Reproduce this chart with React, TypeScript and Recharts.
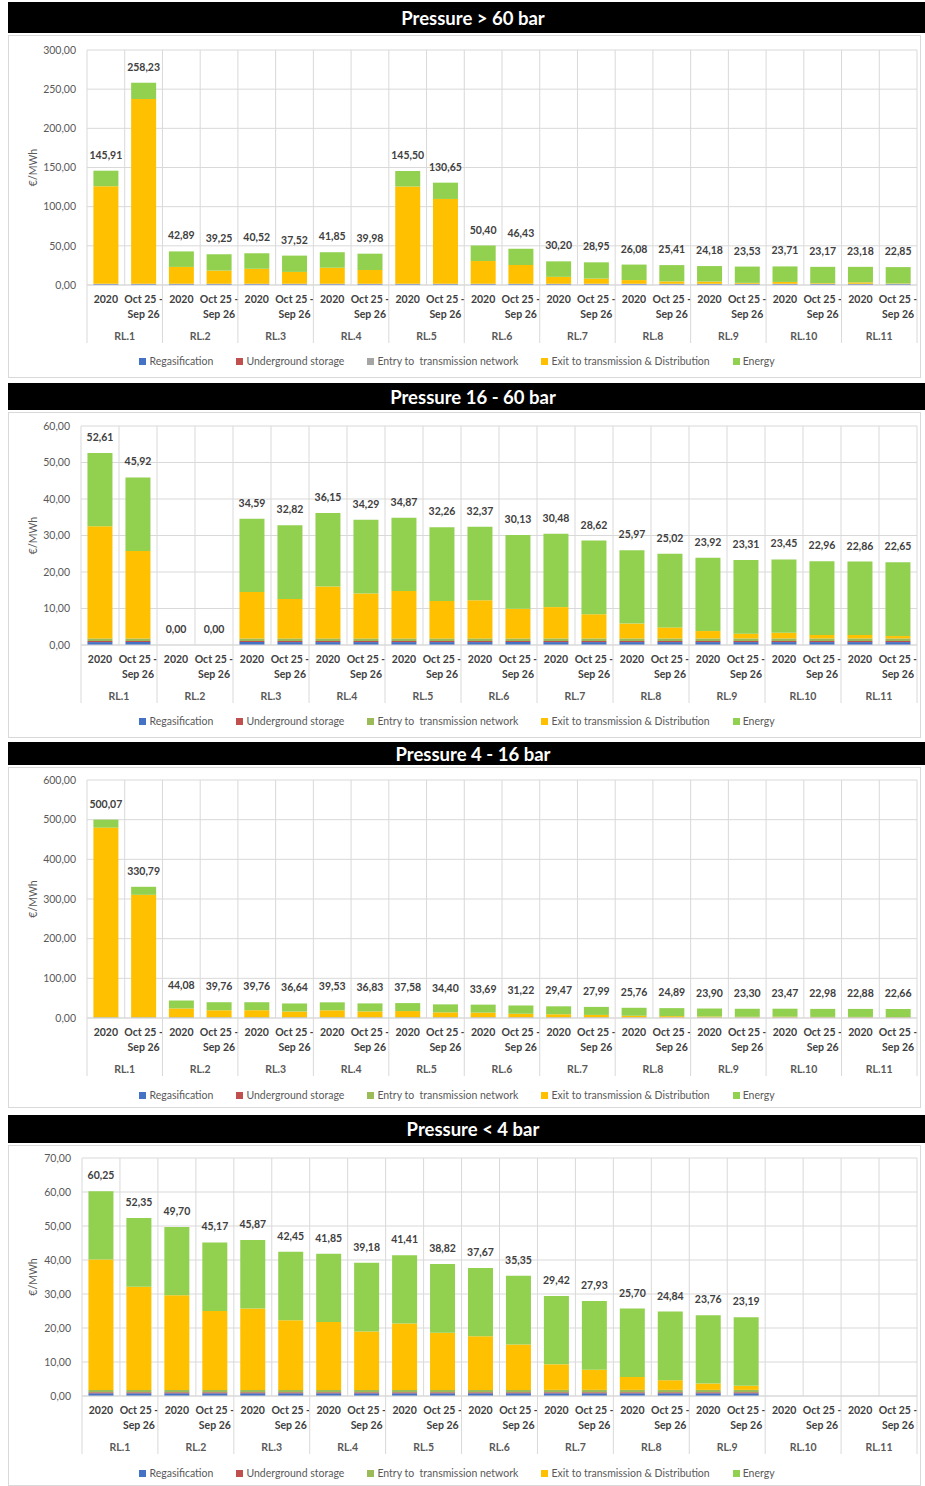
import React from 'react';
import { ComposedChart, Bar, Scatter, XAxis, YAxis, CartesianGrid } from 'recharts';

const groups = ['RL.1', 'RL.2', 'RL.3', 'RL.4', 'RL.5', 'RL.6', 'RL.7', 'RL.8', 'RL.9', 'RL.10', 'RL.11'];
const periods = ['2020', 'Oct 25 - Sep 26'];

// Pressure > 60 bar
const p60Total = [145.91, 258.23, 42.89, 39.25, 40.52, 37.52, 41.85, 39.98, 145.5, 130.65, 50.4, 46.43, 30.2, 28.95, 26.08, 25.41, 24.18, 23.53, 23.71, 23.17, 23.18, 22.85];
const p60Regas = [1.2, 1.2, 1.2, 1.2, 1.2, 1.2, 1.2, 1.2, 1.2, 1.2, 1.2, 1.2, 1.2, 1.2, 1.2, 1.2, 1.2, 1.2, 1.2, 1.2, 1.2, 1.2];
const p60Storage = [0.1, 0.1, 0.1, 0.1, 0.1, 0.1, 0.1, 0.1, 0.1, 0.1, 0.1, 0.1, 0.1, 0.1, 0.1, 0.1, 0.1, 0.1, 0.1, 0.1, 0.1, 0.1];
const p60Entry = [0.3, 0.3, 0.3, 0.3, 0.3, 0.3, 0.3, 0.3, 0.3, 0.3, 0.3, 0.3, 0.3, 0.3, 0.3, 0.3, 0.3, 0.3, 0.3, 0.3, 0.3, 0.3];
const p60Exit = [124.51, 235.83, 21.49, 16.85, 19.12, 15.12, 20.45, 17.58, 124.1, 108.25, 29.0, 24.03, 8.8, 6.55, 4.68, 3.01, 2.78, 1.13, 2.31, 0.77, 1.78, 0.45];
const p60Energy = [19.8, 20.8, 19.8, 20.8, 19.8, 20.8, 19.8, 20.8, 19.8, 20.8, 19.8, 20.8, 19.8, 20.8, 19.8, 20.8, 19.8, 20.8, 19.8, 20.8, 19.8, 20.8];
const p60Ticks = [0, 50, 100, 150, 200, 250, 300];

// Pressure 16 - 60 bar
const p16Total = [52.61, 45.92, 0, 0, 34.59, 32.82, 36.15, 34.29, 34.87, 32.26, 32.37, 30.13, 30.48, 28.62, 25.97, 25.02, 23.92, 23.31, 23.45, 22.96, 22.86, 22.65];
const p16Regas = [0.8, 0.8, 0, 0, 0.8, 0.8, 0.8, 0.8, 0.8, 0.8, 0.8, 0.8, 0.8, 0.8, 0.8, 0.8, 0.8, 0.8, 0.8, 0.8, 0.8, 0.8];
const p16Storage = [0.3, 0.3, 0, 0, 0.3, 0.3, 0.3, 0.3, 0.3, 0.3, 0.3, 0.3, 0.3, 0.3, 0.3, 0.3, 0.3, 0.3, 0.3, 0.3, 0.3, 0.3];
const p16Entry = [0.7, 0.7, 0, 0, 0.7, 0.7, 0.7, 0.7, 0.7, 0.7, 0.7, 0.7, 0.7, 0.7, 0.7, 0.7, 0.7, 0.7, 0.7, 0.7, 0.7, 0.7];
const p16Exit = [30.71, 23.92, 0, 0, 12.69, 10.82, 14.25, 12.29, 12.97, 10.26, 10.47, 8.13, 8.58, 6.62, 4.07, 3.02, 2.02, 1.31, 1.55, 0.96, 0.96, 0.65];
const p16Energy = [20.1, 20.2, 0, 0, 20.1, 20.2, 20.1, 20.2, 20.1, 20.2, 20.1, 20.2, 20.1, 20.2, 20.1, 20.2, 20.1, 20.2, 20.1, 20.2, 20.1, 20.2];
const p16Ticks = [0, 10, 20, 30, 40, 50, 60];

// Pressure 4 - 16 bar
const p4Total = [500.07, 330.79, 44.08, 39.76, 39.76, 36.64, 39.53, 36.83, 37.58, 34.4, 33.69, 31.22, 29.47, 27.99, 25.76, 24.89, 23.9, 23.3, 23.47, 22.98, 22.88, 22.66];
const p4Regas = [0.8, 0.8, 0.8, 0.8, 0.8, 0.8, 0.8, 0.8, 0.8, 0.8, 0.8, 0.8, 0.8, 0.8, 0.8, 0.8, 0.8, 0.8, 0.8, 0.8, 0.8, 0.8];
const p4Storage = [0.3, 0.3, 0.3, 0.3, 0.3, 0.3, 0.3, 0.3, 0.3, 0.3, 0.3, 0.3, 0.3, 0.3, 0.3, 0.3, 0.3, 0.3, 0.3, 0.3, 0.3, 0.3];
const p4Entry = [0.7, 0.7, 0.7, 0.7, 0.7, 0.7, 0.7, 0.7, 0.7, 0.7, 0.7, 0.7, 0.7, 0.7, 0.7, 0.7, 0.7, 0.7, 0.7, 0.7, 0.7, 0.7];
const p4Exit = [478.17, 308.79, 22.18, 17.76, 17.86, 14.64, 17.63, 14.83, 15.68, 12.4, 11.79, 9.22, 7.57, 5.99, 3.86, 2.89, 2.0, 1.3, 1.57, 0.98, 0.98, 0.66];
const p4Energy = [20.1, 20.2, 20.1, 20.2, 20.1, 20.2, 20.1, 20.2, 20.1, 20.2, 20.1, 20.2, 20.1, 20.2, 20.1, 20.2, 20.1, 20.2, 20.1, 20.2, 20.1, 20.2];
const p4Ticks = [0, 100, 200, 300, 400, 500, 600];

// Pressure < 4 bar
const pLowTotal = [60.25, 52.35, 49.7, 45.17, 45.87, 42.45, 41.85, 39.18, 41.41, 38.82, 37.67, 35.35, 29.42, 27.93, 25.7, 24.84, 23.76, 23.19, null, null, null, null];
const pLowRegas = [0.8, 0.8, 0.8, 0.8, 0.8, 0.8, 0.8, 0.8, 0.8, 0.8, 0.8, 0.8, 0.8, 0.8, 0.8, 0.8, 0.8, 0.8, null, null, null, null];
const pLowStorage = [0.3, 0.3, 0.3, 0.3, 0.3, 0.3, 0.3, 0.3, 0.3, 0.3, 0.3, 0.3, 0.3, 0.3, 0.3, 0.3, 0.3, 0.3, null, null, null, null];
const pLowEntry = [0.7, 0.7, 0.7, 0.7, 0.7, 0.7, 0.7, 0.7, 0.7, 0.7, 0.7, 0.7, 0.7, 0.7, 0.7, 0.7, 0.7, 0.7, null, null, null, null];
const pLowExit = [38.35, 30.35, 27.8, 23.17, 23.97, 20.45, 19.95, 17.18, 19.51, 16.82, 15.77, 13.35, 7.52, 5.93, 3.8, 2.84, 1.86, 1.19, null, null, null, null];
const pLowEnergy = [20.1, 20.2, 20.1, 20.2, 20.1, 20.2, 20.1, 20.2, 20.1, 20.2, 20.1, 20.2, 20.1, 20.2, 20.1, 20.2, 20.1, 20.2, null, null, null, null];
const pLowTicks = [0, 10, 20, 30, 40, 50, 60, 70];

const FONT = 'Lato, "Open Sans", sans-serif';
const BLUE = '#4472C4';
const RED = '#C0504D';
const YELLOW = '#FFC000';
const GREEN = '#92D050';
const GRID = '#D9D9D9';

const CHART_W = 917;
const MARGIN_R = 8;
const Y_W = 50;

type Vals = (number | null)[];

const buildRows = (regas: Vals, storage: Vals, entry: Vals, exit: Vals, energy: Vals, total: Vals) =>
  groups.flatMap((g, gi) =>
    periods.map((p, pi) => {
      const i = gi * 2 + pi;
      return { key: `${g}|${p}`, regas: regas[i], storage: storage[i], entry: entry[i], exit: exit[i], energy: energy[i], total: total[i] };
    })
  );

const fmt = (v: number) => v.toFixed(2).replace('.', ',');

interface PanelProps {
  title: string;
  rows: ReturnType<typeof buildRows>;
  ticks: number[];
  entryColor: string;
  titleTop: number;
  titleH: number;
  boxTop: number;
  boxH: number;
  plotTop: number;
  plotH: number;
  plotLeft: number;
  legendY: number;
}

const CategoryTick = (props: any) => {
  const { x, y, payload, index, slot, count } = props;
  const [group, period] = String(payload.value).split('|');
  const lines = period === '2020' ? ['2020'] : ['Oct 25 -', 'Sep 26'];
  const first = index % 2 === 0;
  return (
    <g>
      {lines.map((t, k) => (
        <text key={k} x={x} y={y + 18 + k * 14.5} textAnchor="middle" fontFamily={FONT} fontSize={10.5} fontWeight={700} fill="#404040">
          {t}
        </text>
      ))}
      {first && <line x1={x - slot / 2} x2={x - slot / 2} y1={y} y2={y + 58} stroke={GRID} />}
      {first && (
        <text x={x + slot / 2} y={y + 55} textAnchor="middle" fontFamily={FONT} fontSize={10.5} fontWeight={700} fill="#595959">
          {group}
        </text>
      )}
      {index === count - 1 && <line x1={x + slot / 2} x2={x + slot / 2} y1={y} y2={y + 58} stroke={GRID} />}
    </g>
  );
};

// the total series is drawn as text only, sitting on top of each stack
const TotalMark = (props: any) => {
  const { cx, cy, payload } = props;
  if (payload?.total === null || payload?.total === undefined || !Number.isFinite(cy)) return <g />;
  return (
    <text x={cx} y={cy - 12} textAnchor="middle" fontFamily={FONT} fontSize={10.5} fontWeight={700} fill="#404040">
      {fmt(Number(payload.total))}
    </text>
  );
};

const YLabel = (props: any) => {
  const { viewBox } = props;
  const cy = viewBox.y + viewBox.height / 2;
  return (
    <text x={25} y={cy} transform={`rotate(-90, 25, ${cy})`} textAnchor="middle" dominantBaseline="central" fontFamily={FONT} fontSize={10.5} fill="#595959">
      €/MWh
    </text>
  );
};

const Panel: React.FC<PanelProps> = (p) => {
  const marginLeft = p.plotLeft - 8 - Y_W;
  const plotW = CHART_W - (p.plotLeft - 8) - MARGIN_R;
  const slot = plotW / p.rows.length;
  const yMax = p.ticks[p.ticks.length - 1];
  const legend = [
    { name: 'Regasification', color: BLUE },
    { name: 'Underground storage', color: RED },
    { name: 'Entry to  transmission network', color: p.entryColor },
    { name: 'Exit to transmission & Distribution', color: YELLOW },
    { name: 'Energy', color: GREEN },
  ];
  return (
    <>
      <div
        style={{
          position: 'absolute', left: 8, top: p.titleTop, width: 917, height: p.titleH, background: '#000', color: '#fff',
          fontFamily: FONT, fontWeight: 700, fontSize: 18.5, display: 'flex', alignItems: 'center', justifyContent: 'center',
          paddingLeft: 13, boxSizing: 'border-box',
        }}
      >
        {p.title}
      </div>
      <div style={{ position: 'absolute', left: 8, top: p.boxTop, width: 913, height: p.boxH, border: `1px solid ${GRID}`, boxSizing: 'border-box', background: '#fff' }} />
      <div style={{ position: 'absolute', left: 8, top: p.plotTop - 15 }}>
        <ComposedChart width={CHART_W} height={p.plotH + 75} data={p.rows} margin={{ top: 15, right: MARGIN_R, left: marginLeft, bottom: 0 }} barCategoryGap="17%">
          <CartesianGrid
            stroke={GRID}
            verticalCoordinatesGenerator={({ offset }: any) => {
              const l = offset?.left ?? p.plotLeft - 8;
              const w = offset?.width ?? plotW;
              return Array.from({ length: p.rows.length + 1 }, (_, i) => l + (i * w) / p.rows.length);
            }}
          />
          <XAxis
            dataKey="key"
            height={60}
            interval={0}
            tickLine={false}
            tickSize={0}
            tickMargin={0}
            axisLine={{ stroke: GRID }}
            tick={(tp: any) => <CategoryTick {...tp} slot={slot} count={p.rows.length} />}
          />
          <YAxis
            width={Y_W}
            domain={[0, yMax]}
            ticks={p.ticks}
            allowDataOverflow
            axisLine={false}
            tickLine={false}
            tickSize={0}
            tickMargin={11}
            tickFormatter={(v: number) => fmt(v)}
            tick={{ fontFamily: FONT, fontSize: 10.5, fill: '#595959' }}
            label={<YLabel />}
          />
          <Bar dataKey="regas" name="Regasification" stackId="a" fill={BLUE} isAnimationActive={false} />
          <Bar dataKey="storage" name="Underground storage" stackId="a" fill={RED} isAnimationActive={false} />
          <Bar dataKey="entry" name="Entry to transmission network" stackId="a" fill={p.entryColor} isAnimationActive={false} />
          <Bar dataKey="exit" name="Exit to transmission & Distribution" stackId="a" fill={YELLOW} isAnimationActive={false} />
          <Bar dataKey="energy" name="Energy" stackId="a" fill={GREEN} isAnimationActive={false} />
          <Scatter dataKey="total" name="Total" shape={<TotalMark />} isAnimationActive={false} />
        </ComposedChart>
      </div>
      <div
        style={{
          position: 'absolute', left: 8, width: 898, top: p.legendY - 8, height: 16, display: 'flex', alignItems: 'center',
          justifyContent: 'center', gap: 23, fontFamily: FONT, fontSize: 10.5, color: '#595959', whiteSpace: 'pre',
        }}
      >
        {legend.map((l) => (
          <span key={l.name} style={{ display: 'flex', alignItems: 'center', gap: 3 }}>
            <span style={{ width: 7, height: 7, background: l.color, display: 'inline-block' }} />
            {l.name}
          </span>
        ))}
      </div>
    </>
  );
};

const App: React.FC = () => {
  return (
    <div style={{ position: 'absolute', left: 0, top: 0, width: 925, height: 1486, background: '#fff', overflow: 'hidden' }}>
      <Panel
        title="Pressure > 60 bar"
        rows={buildRows(p60Regas, p60Storage, p60Entry, p60Exit, p60Energy, p60Total)}
        ticks={p60Ticks}
        entryColor="#A5A5A5"
        titleTop={2} titleH={31} boxTop={35} boxH={343}
        plotTop={50} plotH={235} plotLeft={87} legendY={361}
      />
      <Panel
        title="Pressure 16 - 60 bar"
        rows={buildRows(p16Regas, p16Storage, p16Entry, p16Exit, p16Energy, p16Total)}
        ticks={p16Ticks}
        entryColor="#9BBB59"
        titleTop={383} titleH={27} boxTop={412} boxH={326}
        plotTop={426} plotH={219} plotLeft={81} legendY={721}
      />
      <Panel
        title="Pressure 4 - 16 bar"
        rows={buildRows(p4Regas, p4Storage, p4Entry, p4Exit, p4Energy, p4Total)}
        ticks={p4Ticks}
        entryColor="#9BBB59"
        titleTop={742} titleH={23} boxTop={767} boxH={341}
        plotTop={780} plotH={238} plotLeft={87} legendY={1095}
      />
      <Panel
        title="Pressure < 4 bar"
        rows={buildRows(pLowRegas, pLowStorage, pLowEntry, pLowExit, pLowEnergy, pLowTotal)}
        ticks={pLowTicks}
        entryColor="#9BBB59"
        titleTop={1115} titleH={28} boxTop={1145} boxH={341}
        plotTop={1158} plotH={238} plotLeft={82} legendY={1473}
      />
    </div>
  );
};

export default App;
